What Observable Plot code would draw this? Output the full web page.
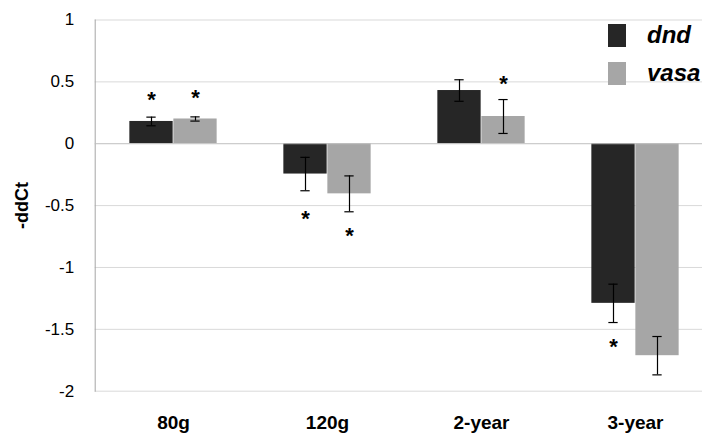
<!DOCTYPE html>
<html>
<head>
<meta charset="utf-8">
<script src="https://cdn.jsdelivr.net/npm/d3@7"></script>
<script src="https://cdn.jsdelivr.net/npm/@observablehq/plot@0.6"></script>
<style>
  html, body { margin: 0; padding: 0; background: #fff; }
  #wrap { position: relative; width: 702px; height: 434px; overflow: hidden; font-family: "Liberation Sans", Arial, sans-serif; }
  #legend { position: absolute; left: 608px; top: 24px; }
  .item { display: flex; align-items: center; height: 23px; margin-bottom: 14.5px; }
  .sw { width: 18px; height: 23px; margin-right: 21px; box-sizing: border-box; }
  .lab { font-size: 24px; font-weight: bold; font-style: italic; line-height: 23px; white-space: nowrap; position: relative; top: -1px; }
</style>
</head>
<body>
<div id="wrap"><div id="chart"></div><div id="legend"></div></div>
<script>
const categories = ["80g", "120g", "2-year", "3-year"];
const series = ["dnd", "vasa"];
const dndValues = [0.18, -0.245, 0.43, -1.29];
const dndErrors = [0.035, 0.135, 0.087, 0.155];
const vasaValues = [0.20, -0.405, 0.22, -1.713];
const vasaErrors = [0.017, 0.145, 0.137, 0.155];
// significance markers (y position in data units, null = none)
const dndStars = [0.40, -0.56, null, -1.595];
const vasaStars = [0.42, -0.70, 0.53, null];
const yTicks = [1, 0.5, 0, -0.5, -1, -1.5, -2];
const colors = ["#262626", "#a6a6a6"];

const valuesBySeries = {dnd: dndValues, vasa: vasaValues};
const errorsBySeries = {dnd: dndErrors, vasa: vasaErrors};
const starsBySeries = {dnd: dndStars, vasa: vasaStars};
const data = categories.flatMap((c, i) => series.map(s => ({
  category: c, series: s,
  value: valuesBySeries[s][i], err: errorsBySeries[s][i], star: starsBySeries[s][i]
})));
const dnd = data.filter(d => d.series === "dnd");
const vasa = data.filter(d => d.series === "vasa");

const off = 22;       // half bar width
const capIn = 72.35;  // cap inset

function seriesMarks(rows, side, inL, inR) {
  return [
    Plot.barY(rows, {x: "category", y: "value", fill: "series", insetLeft: inL, insetRight: inR}),
    Plot.ruleX(rows, {x: "category", y1: d => d.value - d.err, y2: d => d.value + d.err, dx: side * off, stroke: "#000", strokeWidth: 1.2}),
    Plot.tickY(rows, {x: "category", y: d => d.value + d.err, dx: side * off, insetLeft: capIn, insetRight: capIn, stroke: "#000", strokeWidth: 1.2}),
    Plot.tickY(rows, {x: "category", y: d => d.value - d.err, dx: side * off, insetLeft: capIn, insetRight: capIn, stroke: "#000", strokeWidth: 1.2}),
    Plot.text(rows.filter(d => d.star != null), {x: "category", y: "star", text: () => "*", dx: side * off, dy: 6, fontSize: 22, fontWeight: "bold", fill: "#000"})
  ];
}

const chart = Plot.plot({
  width: 702,
  height: 434,
  marginTop: 19.5,
  marginBottom: 43.3,
  marginLeft: 94.7,
  marginRight: 0,
  style: {fontFamily: "Liberation Sans, Arial, sans-serif", fontSize: "17px", color: "#000", background: "#fff"},
  x: {domain: categories, range: [94.7, 713.5], padding: 0, label: null},
  y: {domain: [-2, 1], label: null},
  color: {domain: series, range: colors},
  marks: [
    Plot.ruleY(yTicks.filter(t => t !== 0), {stroke: "#d9d9d9"}),
    Plot.frame({anchor: "left", stroke: "#a6a6a6"}),
    Plot.axisY({ticks: yTicks, tickSize: 0, tickPadding: 21, tickFormat: d => String(d), label: null, fontSize: 17}),
    Plot.axisX({tickSize: 0, tickPadding: 24, fontSize: 19, fontWeight: "bold", label: null}),
    Plot.text(["-ddCt"], {frameAnchor: "left", textAnchor: "middle", rotate: -90, dx: -73, fontSize: 18, fontWeight: "bold", fill: "#000"}),
    ...seriesMarks(dnd, -1, 33.35, 77.35),
    ...seriesMarks(vasa, 1, 77.35, 33.35),
    Plot.ruleY([0], {stroke: "#bfbfbf"})
  ]
});
document.getElementById("chart").appendChild(chart);

const legend = document.getElementById("legend");
series.forEach((s, i) => {
  const item = document.createElement("div");
  item.className = "item";
  const sw = document.createElement("div");
  sw.className = "sw";
  sw.style.background = colors[i];
  const lab = document.createElement("span");
  lab.className = "lab";
  lab.textContent = s;
  item.appendChild(sw);
  item.appendChild(lab);
  legend.appendChild(item);
});
</script>
</body>
</html>
